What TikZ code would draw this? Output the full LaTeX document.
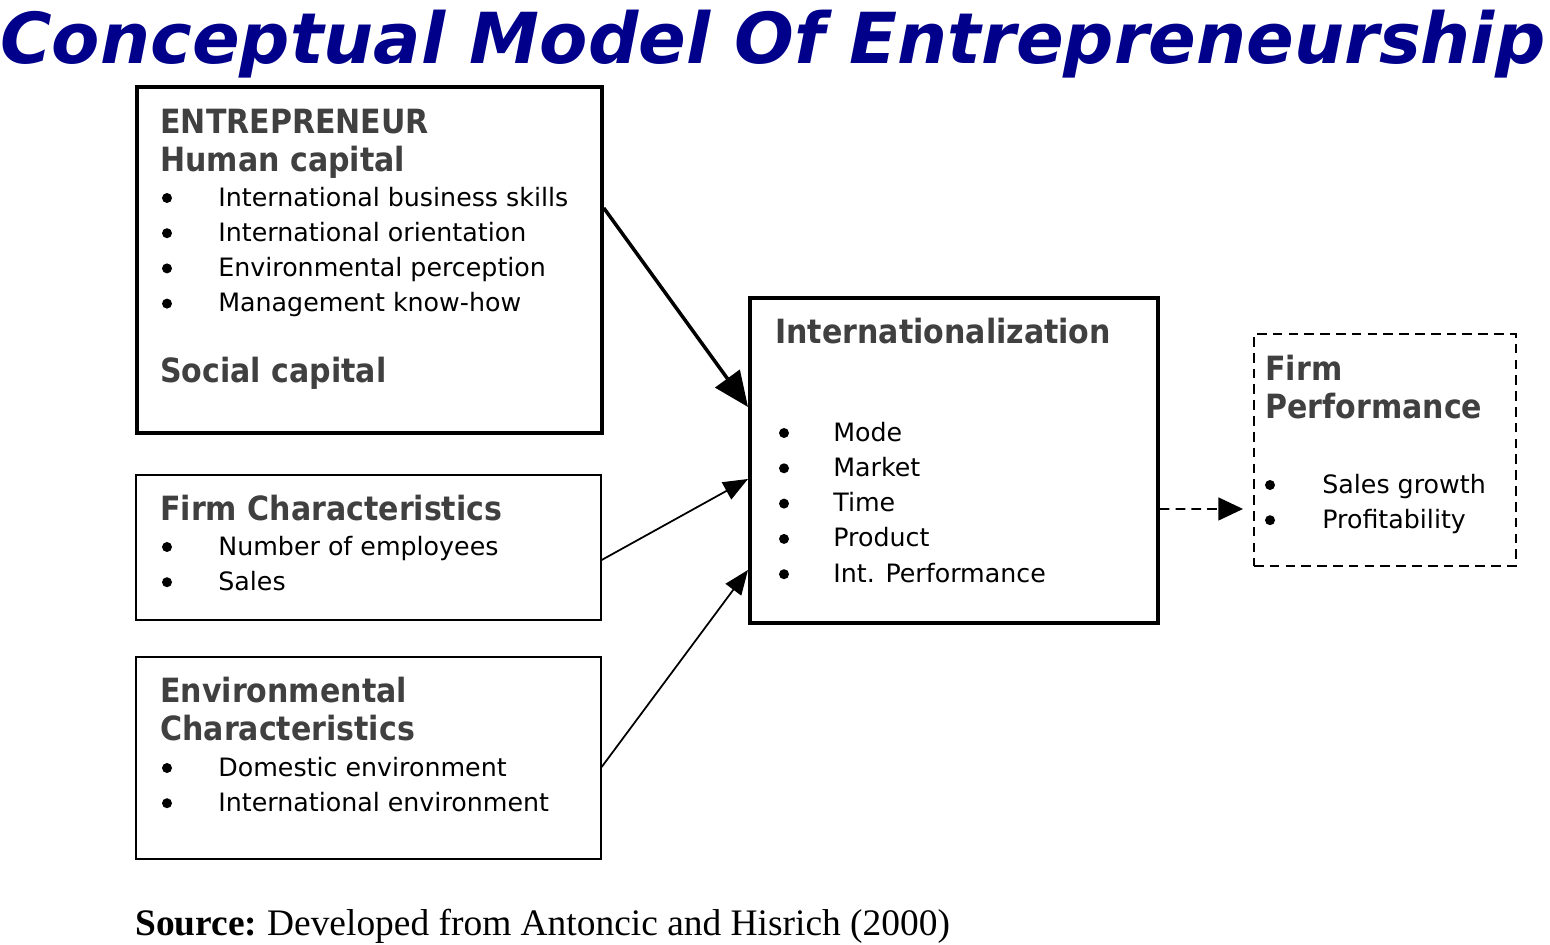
\documentclass[tikz,border=0pt]{standalone}
\usepackage{fontspec}
\setmainfont{DejaVu Sans}
\newfontfamily\srcfont{Liberation Serif}
\newfontfamily\headfont{DejaVu Sans Condensed}
\usetikzlibrary{arrows.meta}
\definecolor{headgray}{HTML}{404040}
\definecolor{titleblue}{HTML}{00008B}
\tikzset{
    box/.style = {rectangle, draw=black, line width=1pt, anchor=north west, inner sep=0pt},
    boxthick/.style = {box, line width=2.2pt},
    boxdash/.style = {box, dash pattern=on 5.5pt off 3.5pt},
    head/.style = {anchor=base west, inner sep=0pt, text=headgray, font=\headfont\fontsize{19}{22}\selectfont\bfseries},
    item/.style = {anchor=base west, inner sep=0pt, font=\fontsize{14.4}{20}\selectfont},
    dot/.style = {circle, fill=black, inner sep=0pt, minimum size=0.2cm},
    edgebig/.style = {-{Triangle[length=20pt,width=17pt]}, line width=2pt},
    edgen/.style = {-{Triangle[length=14pt,width=11pt]}, line width=1pt},
    edged/.style = {-{Triangle[length=14pt,width=13pt]}, line width=1pt, dash pattern=on 5.5pt off 3.5pt}
}
\begin{document}
\begin{tikzpicture}[x=0.02cm, y=-0.02cm]
  \useasboundingbox (0,0) rectangle (1550,944);

  % title
  \node[anchor=base west, inner sep=0pt, text=titleblue] (title) at (0,63)
    {\resizebox{30.9cm}{!}{\bfseries\itshape Conceptual Model Of Entrepreneurship}};

  % boxes
  \node[boxthick, minimum width=9.3cm, minimum height=6.92cm] (entre) at (135,85) {};
  \node[box, minimum width=9.3cm, minimum height=2.9cm] (firm) at (135,474) {};
  \node[box, minimum width=9.3cm, minimum height=4.04cm] (env) at (135,656) {};
  \node[boxthick, minimum width=8.16cm, minimum height=6.5cm] (intl) at (748,296) {};
  \node[boxdash, minimum width=5.24cm, minimum height=4.64cm] (perf) at (1253,333) {};

  % entrepreneur
  \node[head] (entreh) at (160,133) {ENTREPRENEUR};
  \node[head] (human) at (160,171) {Human capital};
  \foreach \t [count=\i] in {International business skills, International orientation,
      Environmental perception, Management know-how} {
    \node[dot] (eb\i) at (167,198+35.2*\i-35.2) {};
    \node[item] (e\i) at (218,206+35.2*\i-35.2) {\t};
  }
  \node[head] (social) at (160,382) {Social capital};

  % firm characteristics
  \node[head] (firmh) at (160,520) {Firm Characteristics};
  \foreach \t [count=\i] in {Number of employees, Sales} {
    \node[dot] (fb\i) at (167,547+35.2*\i-35.2) {};
    \node[item] (f\i) at (218,555+35.2*\i-35.2) {\t};
  }

  % environmental characteristics
  \node[head] (envh) at (160,702) {Environmental};
  \node[head] (envh2) at (160,740) {Characteristics};
  \foreach \t [count=\i] in {Domestic environment, International environment} {
    \node[dot] (vb\i) at (167,768+35.2*\i-35.2) {};
    \node[item] (v\i) at (218,776+35.2*\i-35.2) {\t};
  }

  % internationalization
  \node[head] (intlh) at (775,343) {Internationalization};
  \foreach \t [count=\i] in {Mode, Market, Time, Product, Int. Performance} {
    \node[dot] (ib\i) at (784,433+35.3*\i-35.3) {};
    \node[item] (i\i) at (833,441+35.3*\i-35.3) {\t};
  }

  % firm performance
  \node[head] (perfh) at (1265,380) {Firm};
  \node[head] (perfh2) at (1265,418) {Performance};
  \foreach \t [count=\i] in {Sales growth, Profitability} {
    \node[dot] (pb\i) at (1270,485+35.2*\i-35.2) {};
    \node[item] (p\i) at (1322,493+35.2*\i-35.2) {\t};
  }

  % source
  \node[anchor=base west, inner sep=0pt, font=\srcfont\fontsize{21.3}{25}\selectfont] (src) at (135,935)
    {\textbf{Source:}\kern-1.5pt{} Developed from Antoncic and Hisrich (2000)};

  % arrows
  \draw[edgebig] ([yshift=-2.46cm]entre.north east) -- ([yshift=-2.22cm]intl.north west);
  \draw[edgen] ([yshift=-1.72cm]firm.north east) -- ([yshift=-3.66cm]intl.north west);
  \draw[edgen] ([yshift=-2.22cm]env.north east) -- ([yshift=-5.48cm]intl.north west);
  \draw[edged, shorten >=0.2cm] ([yshift=-4.26cm]intl.north east) -- ([yshift=-3.52cm]perf.north west);
\end{tikzpicture}
\end{document}
